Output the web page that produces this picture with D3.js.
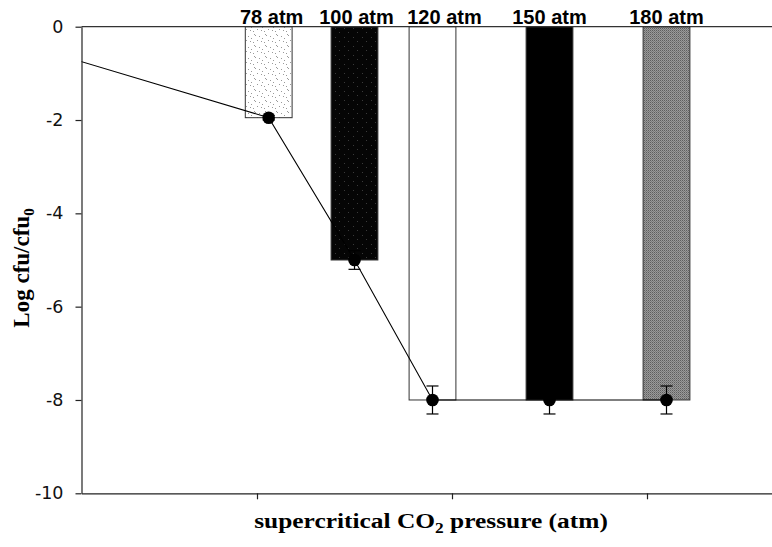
<!DOCTYPE html>
<html>
<head>
<meta charset="utf-8">
<script src="https://cdn.jsdelivr.net/npm/d3@7"></script>
<style>
  html, body { margin: 0; padding: 0; background: #fff; }
  svg { display: block; }
</style>
</head>
<body>
<svg id="chart" width="772" height="547"></svg>
<script>
// ---- data ----
const pressures = [78, 100, 120, 150, 180];
const barLabels = ["78 atm", "100 atm", "120 atm", "150 atm", "180 atm"];
const logValues = [-1.95, -5.0, -8.0, -8.0, -8.0];
const errValues = [0.05, 0.2, 0.3, 0.3, 0.3];
const linePressures = [0, 78, 100, 120, 150, 180];
const lineValues = [0, -1.95, -5.0, -8.0, -8.0, -8.0];
const xTicks = [75, 125, 175];
const yTicks = [0, -2, -4, -6, -8, -10];
const barFills = ["url(#stipple)", "url(#darkspeck)", "#ffffff", "#000000", "url(#grayTex)"];

(function () {
// ---- layout ----
const W = 772, H = 547;
const mLeft = 81.5, mTop = 26.7, mBottom = 493.3;
const labelNudge = [3, 2, 12, 0, 0]; // px shift of top labels as placed in the original
const svg = d3.select("#chart");

const x = d3.scaleLinear().domain([30, 210]).range([mLeft, mLeft + 180 * 3.9]);
const y = d3.scaleLinear().domain([-10, 0]).range([mBottom, mTop]);
const barW = x(12) - x(0);

// ---- patterns ----
const defs = svg.append("defs");
const st = defs.append("pattern").attr("id", "stipple").attr("patternUnits", "userSpaceOnUse")
  .attr("width", 11).attr("height", 11);
st.append("rect").attr("width", 11).attr("height", 11).attr("fill", "#fff");
[[1,1],[2,2],[6,3],[4,7],[8,8],[9,5],[0,9]].forEach(([a,b]) =>
  st.append("rect").attr("x", a).attr("y", b).attr("width", 1).attr("height", 1).attr("fill", "#9a9a9a"));

const ds = defs.append("pattern").attr("id", "darkspeck").attr("patternUnits", "userSpaceOnUse")
  .attr("width", 9).attr("height", 9);
ds.append("rect").attr("width", 9).attr("height", 9).attr("fill", "#050505");
[[2,1],[6,5]].forEach(([a,b]) =>
  ds.append("rect").attr("x", a).attr("y", b).attr("width", 1).attr("height", 1).attr("fill", "#3a3a3a"));

const gt = defs.append("pattern").attr("id", "grayTex").attr("patternUnits", "userSpaceOnUse")
  .attr("width", 2).attr("height", 2);
gt.append("rect").attr("width", 2).attr("height", 2).attr("fill", "#9a9a9a");
gt.append("rect").attr("x", 0).attr("y", 0).attr("width", 1).attr("height", 1).attr("fill", "#5e5e5e");
gt.append("rect").attr("x", 1).attr("y", 1).attr("width", 1).attr("height", 1).attr("fill", "#7a7a7a");

defs.append("clipPath").attr("id", "plotClip").append("rect")
  .attr("x", mLeft).attr("y", mTop - 10).attr("width", W - mLeft).attr("height", mBottom - mTop + 20);

// ---- bars ----
svg.append("g").selectAll("rect").data(pressures).join("rect")
  .attr("x", d => x(d) - barW / 2)
  .attr("y", y(0))
  .attr("width", barW)
  .attr("height", (d, i) => y(logValues[i]) - y(0))
  .attr("fill", (d, i) => barFills[i])
  .attr("stroke", "#333")
  .attr("stroke-width", 1);

// ---- top zero line ----
svg.append("line")
  .attr("x1", mLeft).attr("x2", W).attr("y1", y(0)).attr("y2", y(0))
  .attr("stroke", "#333").attr("stroke-width", 1.2);

// ---- line ----
const lineGen = d3.line().x((d, i) => x(linePressures[i])).y((d, i) => y(lineValues[i]));
svg.append("path").datum(lineValues)
  .attr("clip-path", "url(#plotClip)")
  .attr("d", lineGen)
  .attr("fill", "none").attr("stroke", "#000").attr("stroke-width", 1.1);

// ---- error bars ----
const eg = svg.append("g").attr("stroke", "#000").attr("stroke-width", 1.2);
pressures.forEach((p, i) => {
  const cx = x(p), y1 = y(logValues[i] + errValues[i]), y2 = y(logValues[i] - errValues[i]);
  eg.append("line").attr("x1", cx).attr("x2", cx).attr("y1", y1).attr("y2", y2);
  eg.append("line").attr("x1", cx - 6).attr("x2", cx + 6).attr("y1", y1).attr("y2", y1);
  eg.append("line").attr("x1", cx - 6).attr("x2", cx + 6).attr("y1", y2).attr("y2", y2);
});

// ---- points ----
svg.append("g").selectAll("circle").data(pressures).join("circle")
  .attr("cx", d => x(d)).attr("cy", (d, i) => y(logValues[i]))
  .attr("r", 6.3).attr("fill", "#000");

// ---- bar labels ----
svg.append("g").selectAll("text").data(pressures).join("text")
  .attr("x", (d, i) => x(d) + labelNudge[i]).attr("y", 24)
  .attr("text-anchor", "middle")
  .attr("font-family", "Liberation Sans, Arial, sans-serif")
  .attr("font-weight", "bold").attr("font-size", 20)
  .text((d, i) => barLabels[i]);

// ---- axes ----
const yAxis = d3.axisLeft(y).tickValues(yTicks).tickSize(6).tickSizeOuter(0).tickPadding(12)
  .tickFormat(d3.format("d"));
const gy = svg.append("g").attr("transform", `translate(${mLeft},0)`).call(yAxis);
gy.selectAll("text").attr("font-family", "DejaVu Sans, sans-serif").attr("font-size", 17.5)
  .attr("fill", "#111").text(d => String(d).replace("\u2212", "-"));
gy.selectAll("path, line").attr("stroke", "#222").attr("stroke-width", 1.2);

const xAxis = d3.axisBottom(x).tickValues(xTicks).tickSize(6).tickSizeOuter(0).tickFormat("");
const gx = svg.append("g").attr("transform", `translate(0,${mBottom})`).call(xAxis);
gx.selectAll("path, line").attr("stroke", "#222").attr("stroke-width", 1.2);

// ---- axis titles ----
const xt = svg.append("text")
  .attr("transform", `translate(431,528) scale(1.24,1)`)
  .attr("text-anchor", "middle")
  .attr("font-family", "Liberation Serif, Times New Roman, serif")
  .attr("font-weight", "bold").attr("font-size", 20.5);
xt.append("tspan").text("supercritical CO");
xt.append("tspan").attr("font-size", 14).attr("dy", 5).text("2");
xt.append("tspan").attr("dy", -5).text(" pressure (atm)");

const yt = svg.append("text")
  .attr("transform", `translate(29,268) rotate(-90)`)
  .attr("text-anchor", "middle")
  .attr("font-family", "Liberation Serif, Times New Roman, serif")
  .attr("font-weight", "bold").attr("font-size", 23);
yt.append("tspan").text("Log cfu/cfu");
yt.append("tspan").attr("font-size", 15).attr("dy", 5).text("0");
})();
</script>
</body>
</html>
